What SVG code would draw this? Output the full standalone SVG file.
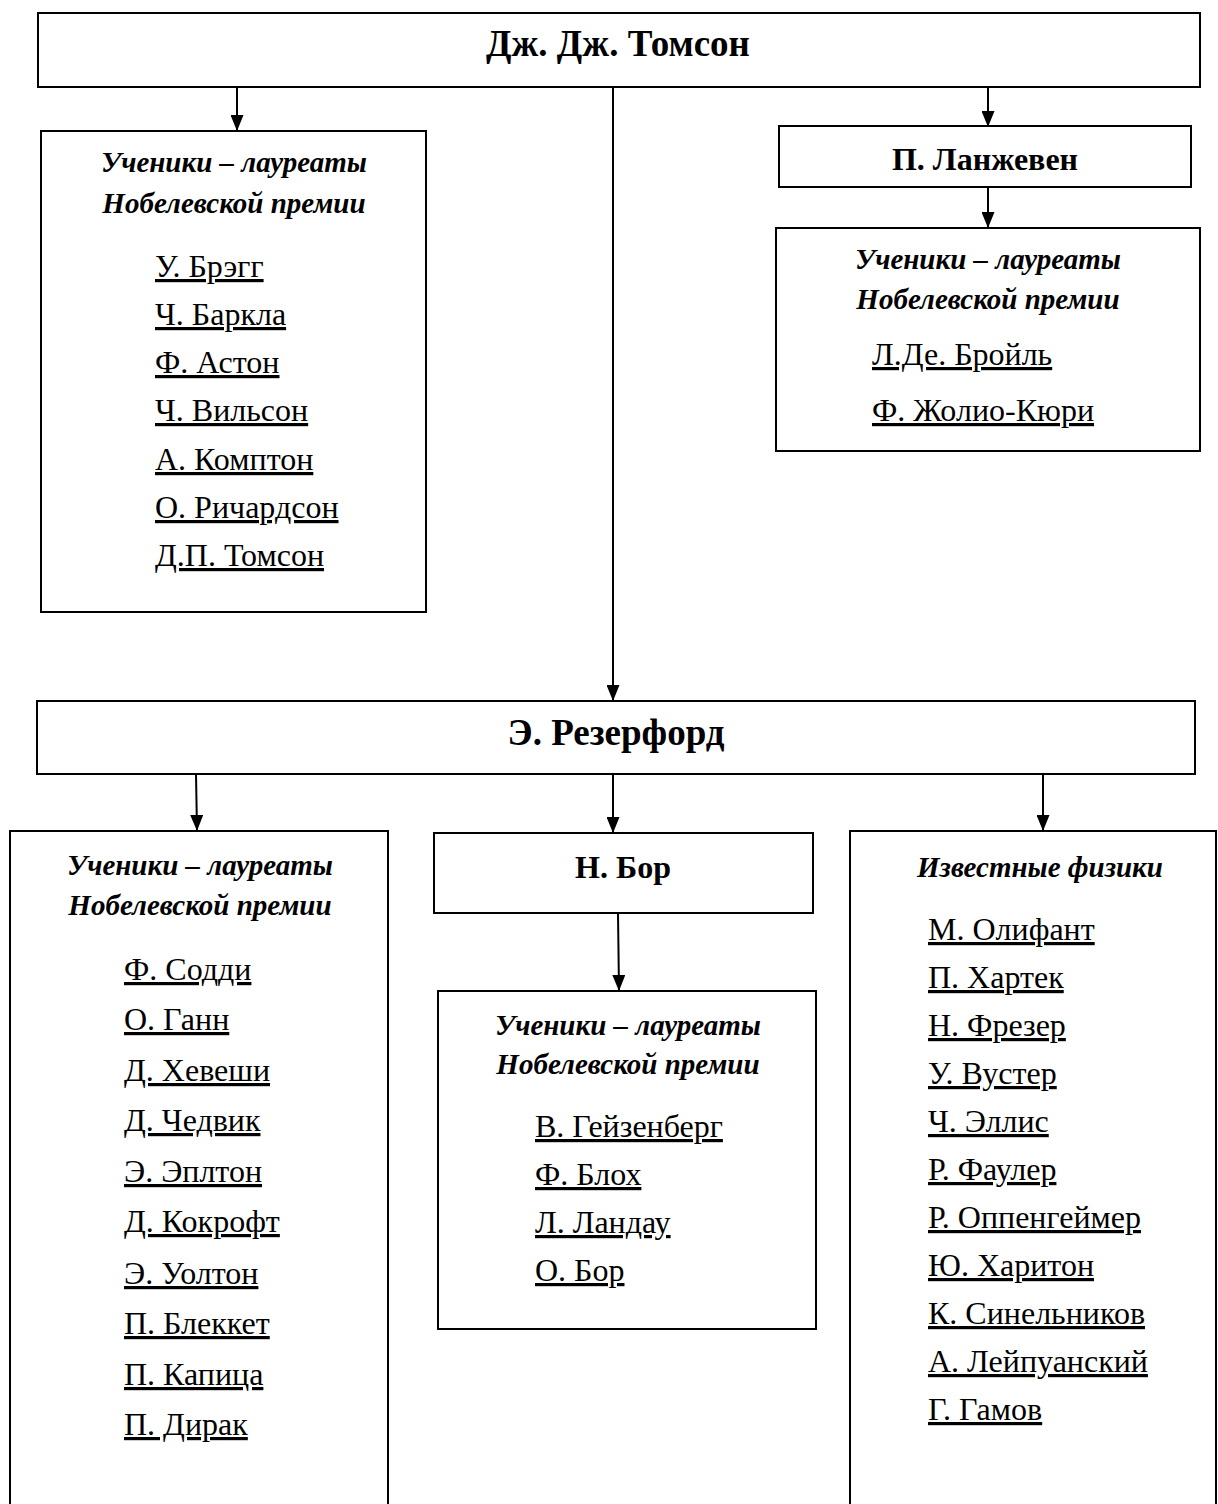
<svg xmlns="http://www.w3.org/2000/svg" width="1218" height="1504" viewBox="0 0 1218 1504">
<style>
.box{fill:#fff;stroke:#000;stroke-width:2}
.t{font-family:"Liberation Serif","Times New Roman",serif;fill:#000}
.title{font-size:37px;font-weight:bold;text-anchor:middle}
.sub{font-size:32px;font-weight:bold;text-anchor:middle}
.hd{font-size:29px;font-weight:bold;font-style:italic;text-anchor:middle}
.nm{font-size:32px;text-decoration:underline}
.c{stroke:#000;stroke-width:2;fill:none}
</style>
<defs>
<marker id="a" markerWidth="16" markerHeight="13" refX="16" refY="6.5" orient="auto" markerUnits="userSpaceOnUse" viewBox="0 0 16 13">
<path d="M0,0 L16,6.5 L0,13 Z" fill="#000"/>
</marker>
</defs>
<g id="connectors">
<line class="c" x1="237" y1="87" x2="237" y2="131" marker-end="url(#a)"/>
<line class="c" x1="613" y1="87" x2="613" y2="701" marker-end="url(#a)"/>
<line class="c" x1="988" y1="87" x2="988" y2="127" marker-end="url(#a)"/>
<line class="c" x1="988" y1="187" x2="988" y2="228" marker-end="url(#a)"/>
<line class="c" x1="196" y1="774" x2="197" y2="831" marker-end="url(#a)"/>
<line class="c" x1="613" y1="774" x2="613" y2="833" marker-end="url(#a)"/>
<line class="c" x1="1043" y1="774" x2="1043" y2="831" marker-end="url(#a)"/>
<line class="c" x1="618" y1="913" x2="619" y2="991" marker-end="url(#a)"/>
</g>
<g id="thomson">
<rect class="box" x="38" y="13" width="1162" height="74"/>
<text class="t title" x="618" y="56">Дж. Дж. Томсон</text>
</g>
<g id="thomson-students">
<rect class="box" x="41" y="131" width="385" height="481"/>
<text class="t hd" x="234" y="172">Ученики – лауреаты</text>
<text class="t hd" x="234" y="213">Нобелевской премии</text>
<text class="t nm" x="155" y="277">У. Брэгг</text>
<text class="t nm" x="155" y="325">Ч. Баркла</text>
<text class="t nm" x="155" y="373">Ф. Астон</text>
<text class="t nm" x="155" y="421">Ч. Вильсон</text>
<text class="t nm" x="155" y="470">А. Комптон</text>
<text class="t nm" x="155" y="518">О. Ричардсон</text>
<text class="t nm" x="155" y="566">Д.П. Томсон</text>
</g>
<g id="langevin">
<rect class="box" x="779" y="126" width="412" height="61"/>
<text class="t sub" x="985" y="170">П. Ланжевен</text>
</g>
<g id="langevin-students">
<rect class="box" x="776" y="228" width="424" height="223"/>
<text class="t hd" x="988" y="269">Ученики – лауреаты</text>
<text class="t hd" x="988" y="309">Нобелевской премии</text>
<text class="t nm" x="872" y="365">Л.Де. Бройль</text>
<text class="t nm" x="872" y="421">Ф. Жолио-Кюри</text>
</g>
<g id="rutherford">
<rect class="box" x="37" y="701" width="1158" height="73"/>
<text class="t title" x="616" y="745">Э. Резерфорд</text>
</g>
<g id="rutherford-students">
<path class="box" d="M10,1506 L10,831 L388,831 L388,1506"/>
<text class="t hd" x="200" y="875">Ученики – лауреаты</text>
<text class="t hd" x="200" y="915">Нобелевской премии</text>
<text class="t nm" x="124" y="980">Ф. Содди</text>
<text class="t nm" x="124" y="1030">О. Ганн</text>
<text class="t nm" x="124" y="1081">Д. Хевеши</text>
<text class="t nm" x="124" y="1131">Д. Чедвик</text>
<text class="t nm" x="124" y="1182">Э. Эплтон</text>
<text class="t nm" x="124" y="1232">Д. Кокрофт</text>
<text class="t nm" x="124" y="1284">Э. Уолтон</text>
<text class="t nm" x="124" y="1334">П. Блеккет</text>
<text class="t nm" x="124" y="1385">П. Капица</text>
<text class="t nm" x="124" y="1435">П. Дирак</text>
</g>
<g id="bohr">
<rect class="box" x="434" y="833" width="379" height="80"/>
<text class="t sub" x="623" y="878">Н. Бор</text>
</g>
<g id="bohr-students">
<rect class="box" x="438" y="991" width="378" height="338"/>
<text class="t hd" x="628" y="1035">Ученики – лауреаты</text>
<text class="t hd" x="628" y="1074">Нобелевской премии</text>
<text class="t nm" x="535" y="1137">В. Гейзенберг</text>
<text class="t nm" x="535" y="1185">Ф. Блох</text>
<text class="t nm" x="535" y="1233">Л. Ландау</text>
<text class="t nm" x="535" y="1281">О. Бор</text>
</g>
<g id="physicists">
<path class="box" d="M850,1506 L850,831 L1216,831 L1216,1506"/>
<text class="t hd" x="1040" y="877">Известные физики</text>
<text class="t nm" x="928" y="940">М. Олифант</text>
<text class="t nm" x="928" y="988">П. Хартек</text>
<text class="t nm" x="928" y="1036">Н. Фрезер</text>
<text class="t nm" x="928" y="1084">У. Вустер</text>
<text class="t nm" x="928" y="1132">Ч. Эллис</text>
<text class="t nm" x="928" y="1180">Р. Фаулер</text>
<text class="t nm" x="928" y="1228">Р. Оппенгеймер</text>
<text class="t nm" x="928" y="1276">Ю. Харитон</text>
<text class="t nm" x="928" y="1324">К. Синельников</text>
<text class="t nm" x="928" y="1372">А. Лейпуанский</text>
<text class="t nm" x="928" y="1420">Г. Гамов</text>
</g>
</svg>
